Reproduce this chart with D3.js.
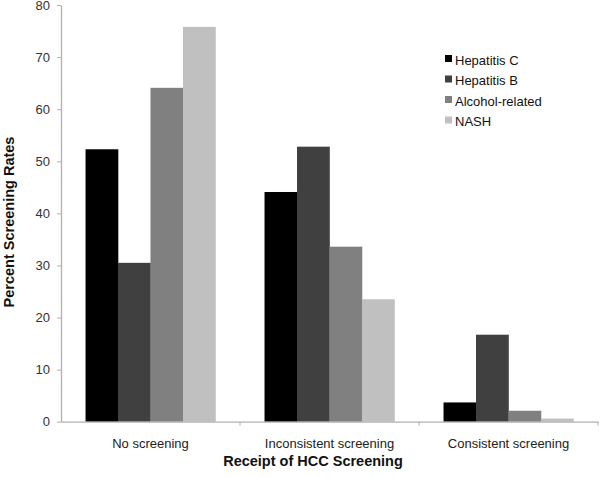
<!DOCTYPE html>
<html>
<head>
<meta charset="utf-8">
<script src="https://cdn.jsdelivr.net/npm/d3@7"></script>
<style>
body { margin: 0; background: #fff; }
svg { display: block; font-family: "Liberation Sans", Arial, sans-serif; }
</style>
</head>
<body>
<svg id="chart" width="600" height="477"></svg>
<script>
const categories = ["No screening", "Inconsistent screening", "Consistent screening"];
const seriesNames = ["Hepatitis C", "Hepatitis B", "Alcohol-related", "NASH"];
const hepatitisC = [52.3, 44.1, 3.7];
const hepatitisB = [30.5, 52.8, 16.7];
const alcohol = [64.1, 33.6, 2.1];
const nash = [75.8, 23.5, 0.6];
const yTicks = [0, 10, 20, 30, 40, 50, 60, 70, 80];
const colors = ["#000000", "#404040", "#808080", "#c0c0c0"];

const seriesValues = [hepatitisC, hepatitisB, alcohol, nash];

const svg = d3.select("#chart");
const margin = { left: 61, right: 2, top: 5, bottom: 55 };
const width = 600, height = 477;
const plotBottom = 421.7;

const x0 = d3.scaleBand().domain(categories).range([margin.left, width - margin.right]).paddingInner(0).paddingOuter(0);
const x1 = d3.scaleBand().domain(seriesNames).range([0, x0.bandwidth()]).paddingOuter(0.755).paddingInner(0);
const y = d3.scaleLinear().domain([0, 80]).range([plotBottom, margin.top]);

// bars
categories.forEach((c, ci) => {
  const g = svg.append("g").attr("transform", `translate(${x0(c)},0)`);
  seriesNames.forEach((s, si) => {
    const v = seriesValues[si][ci];
    g.append("rect")
      .attr("x", x1(s))
      .attr("y", y(v))
      .attr("width", x1.bandwidth() + 0.3)
      .attr("height", y(0) - y(v))
      .attr("fill", colors[si]);
  });
});

// y axis
const yAxis = d3.axisLeft(y).tickValues(yTicks).tickSize(4).tickPadding(7).tickSizeOuter(0);
const gy = svg.append("g").attr("transform", `translate(${margin.left},0)`).call(yAxis);
gy.select(".domain").attr("stroke", "#b0b0b0").attr("stroke-width", 1.3);
gy.selectAll(".tick line").attr("stroke", "#b0b0b0");
gy.selectAll(".tick text").attr("fill", "#333").style("font-size", "13px").style("font-family", "Liberation Sans, Arial, sans-serif");

// x axis
const xAxis = d3.axisBottom(x0).tickSize(0).tickPadding(17);
const gx = svg.append("g").attr("transform", `translate(0,${plotBottom})`).call(xAxis);
gx.select(".domain").attr("stroke", "#b0b0b0").attr("stroke-width", 1.3);
gx.selectAll(".tick text").attr("fill", "#222").style("font-size", "13px").style("font-family", "Liberation Sans, Arial, sans-serif");
// boundary tick marks
categories.forEach((c, i) => {
  if (i === 0) return;
  gx.append("line").attr("x1", x0(c)).attr("x2", x0(c)).attr("y1", 0).attr("y2", 4).attr("stroke", "#b0b0b0");
});
gx.append("line").attr("x1", width - margin.right).attr("x2", width - margin.right).attr("y1", 0).attr("y2", 4).attr("stroke", "#b0b0b0");

// axis titles
svg.append("text")
  .attr("x", 313).attr("y", 466)
  .attr("text-anchor", "middle")
  .style("font-size", "14.5px").style("font-weight", "bold").attr("fill", "#111")
  .text("Receipt of HCC Screening");

svg.append("text")
  .attr("transform", "translate(14,222) rotate(-90)")
  .attr("text-anchor", "middle")
  .style("font-size", "14.5px").style("font-weight", "bold").attr("fill", "#111")
  .text("Percent Screening Rates");

// legend
const legend = svg.append("g").attr("transform", "translate(445,60)");
seriesNames.forEach((s, i) => {
  const row = legend.append("g").attr("transform", `translate(0,${i * 20.5})`);
  row.append("rect").attr("x", 0).attr("y", -5).attr("width", 7).attr("height", 7).attr("fill", colors[i]);
  row.append("text").attr("x", 10).attr("y", 4.5).style("font-size", "13px").attr("fill", "#111").text(s);
});
</script>
</body>
</html>
